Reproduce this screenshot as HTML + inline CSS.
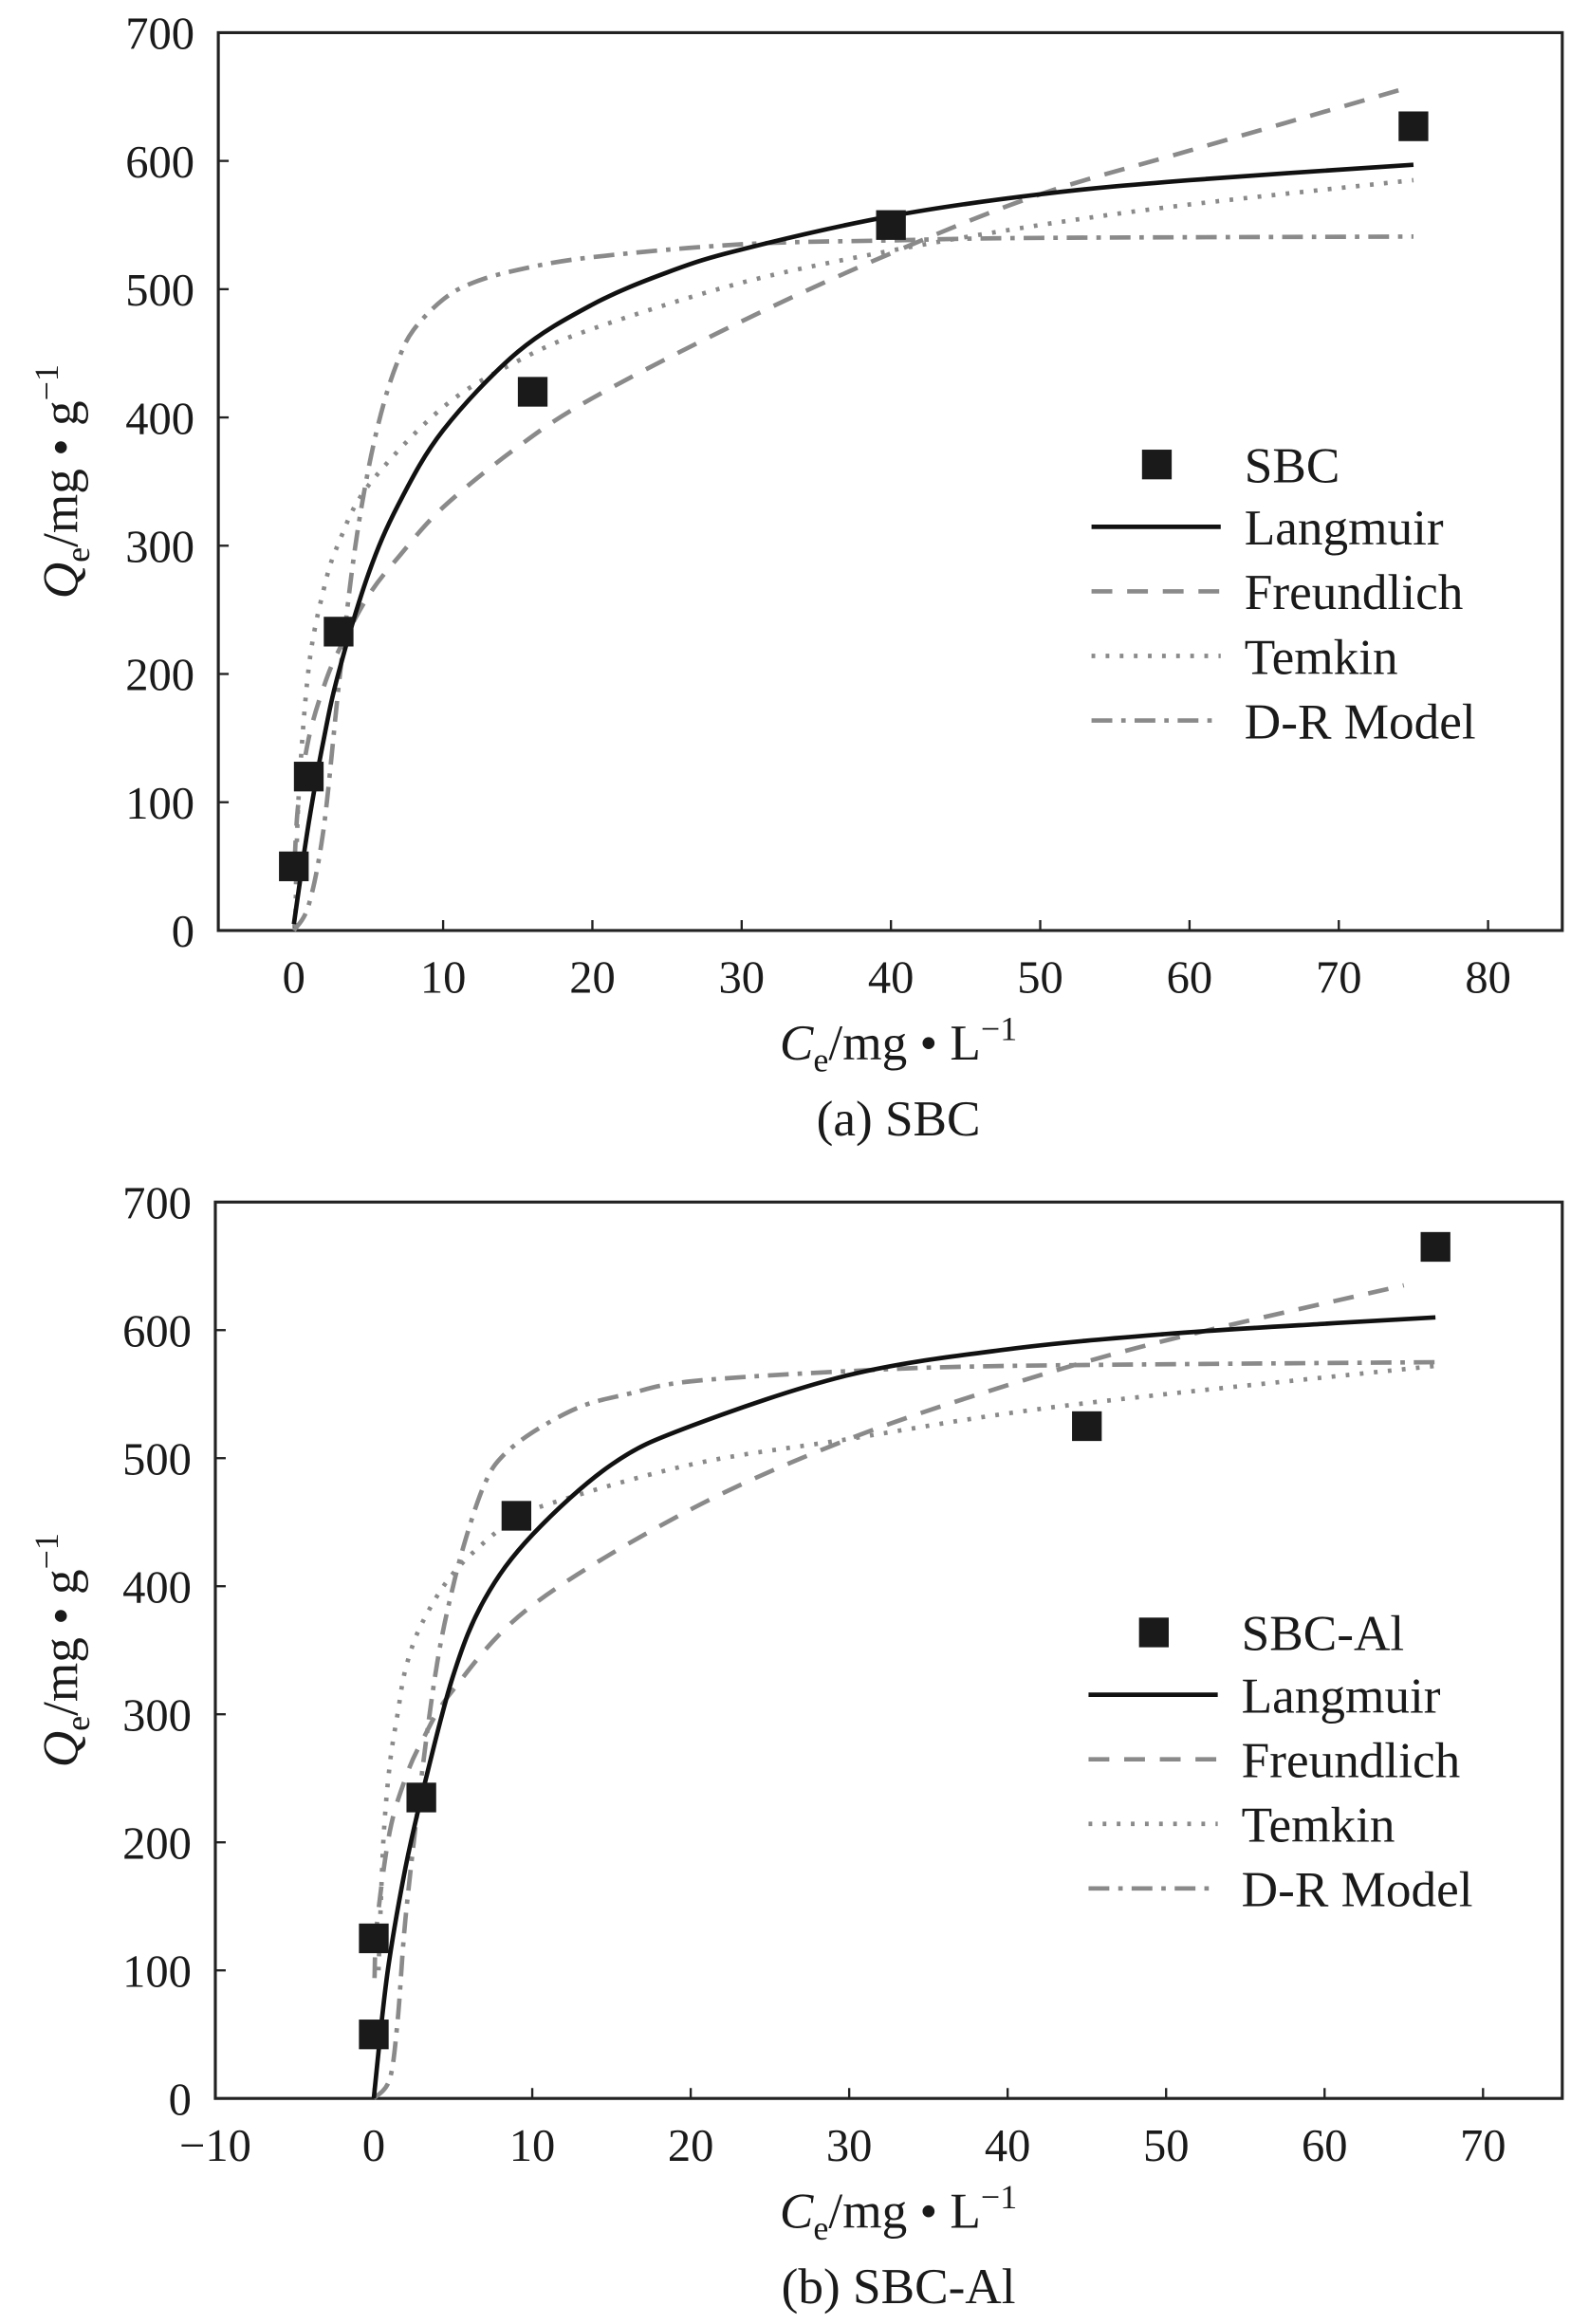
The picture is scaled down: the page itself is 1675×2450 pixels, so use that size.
<!DOCTYPE html>
<html><head><meta charset="utf-8">
<style>
html,body{margin:0;padding:0;background:#fff;}
svg{display:block;}
text{font-family:"Liberation Serif",serif;fill:#1a1a1a;}
</style></head>
<body>
<svg id="chart" width="1675" height="2450" viewBox="0 0 1070 1566" preserveAspectRatio="none" xmlns="http://www.w3.org/2000/svg"></svg>
<script>
// ---- Panel (a) SBC data ----
const aPtsC = [0, 1, 3, 16, 40, 75];
const aPtsQ = [50, 120, 233, 420, 550, 627];
const aLangC = [0,1,2,3,5,7,10,15,20,25,30,40,50,60,75];
const aLangQ = [5,84,149,201,278,332,390,451,488,513,531,557,574,585,597];
const aFreC = [0.05,0.3,1,2,3,5,7,10,15,20,30,40,50,60,74];
const aFreQ = [54,99,150,190,218,261,291,330,377,415,475,528,574,608,655];
const aTemC = [0.1,0.3,1,2,3,5,10,15,20,30,40,50,60,75];
const aTemQ = [3,100,205,266,302,347,408,444,469,505,530,550,566,585];
const aDRC = [0,1,2,3,4,5,6,7,8,10,12,15,20,30,40,50,75];
const aDRQ = [0,20,80,190,290,360,410,445,468,492,505,515,525,535,538,540,541];
const aXTicks = [0,10,20,30,40,50,60,70,80];
// ---- Panel (b) SBC-Al data ----
const bPtsC = [0, 0, 3, 9, 45, 67];
const bPtsQ = [50, 125, 235, 455, 525, 665];
const bLangC = [0,0.5,1,2,3,5,7,10,15,20,30,40,50,60,67];
const bLangQ = [0,60,110,180,235,330,390,440,495,525,565,585,597,605,610];
const bFreC = [0.05,0.2,1,2,3,5,10,20,30,40,50,65];
const bFreQ = [94,136,208,250,278,319,385,460,515,557,592,635];
const bTemC = [0.3,0.6,1,1.5,2,3,5,8,10,20,30,40,50,67];
const bTemQ = [100,200,260,300,335,370,410,445,460,495,515,535,550,572];
const bDRC = [0,1,1.5,2,3,4,5,6,7,8,10,13,16,20,30,40,67];
const bDRQ = [0,15,60,140,250,340,400,445,480,500,520,540,550,560,568,572,575];
const bXTicks = [-10,0,10,20,30,40,50,60,70];
const yTicks = [0,100,200,300,400,500,600,700];

const NS="http://www.w3.org/2000/svg";
const svg=document.getElementById('chart');
function mk(tag,attrs,parent){const e=document.createElementNS(NS,tag);for(const k in attrs)e.setAttribute(k,attrs[k]);(parent||svg).appendChild(e);return e;}
function smooth(P){
  let d='M'+P[0][0].toFixed(1)+','+P[0][1].toFixed(1);
  for(let i=0;i<P.length-1;i++){
    const p0=P[Math.max(i-1,0)],p1=P[i],p2=P[i+1],p3=P[Math.min(i+2,P.length-1)];
    const c1=[p1[0]+(p2[0]-p0[0])/6,p1[1]+(p2[1]-p0[1])/6];
    const c2=[p2[0]-(p3[0]-p1[0])/6,p2[1]-(p3[1]-p1[1])/6];
    d+='C'+c1[0].toFixed(1)+','+c1[1].toFixed(1)+' '+c2[0].toFixed(1)+','+c2[1].toFixed(1)+' '+p2[0].toFixed(1)+','+p2[1].toFixed(1);
  }
  return d;
}

function panel(p){
  const g=mk('g',{});
  
  
  const sx=c=>p.L+(c-p.xmin)/(p.xmax-p.xmin)*(p.R-p.L);
  const sy=q=>p.B-(q/700)*(p.B-p.T);
  const box=mk('rect',{x:p.L,y:p.T,width:p.R-p.L,height:p.B-p.T,fill:'none',stroke:'#222','stroke-width':2},g);
  
  
  p.xt.forEach(t=>{
    const x=sx(t);
    mk('line',{x1:x,y1:p.B,x2:x,y2:p.B-7,stroke:'#222','stroke-width':1.5},g);
    const tx=mk('text',{x:x,y:p.B+42,'font-size':31,'text-anchor':'middle'},g);
    tx.textContent=t<0?'\u2212'+(-t):String(t);
    
    
  });
  yTicks.forEach(t=>{
    const y=sy(t);
    mk('line',{x1:p.L,y1:y,x2:p.L+7,y2:y,stroke:'#222','stroke-width':1.5},g);
    const tx=mk('text',{x:p.L-16,y:y+11,'font-size':31,'text-anchor':'end'},g);
    tx.textContent=t;
    
    
  });
  const series=[
    {c:p.fre[0],q:p.fre[1],col:'#8a8a8a',da:'14,10',name:'freundlich-curve'},
    {c:p.tem[0],q:p.tem[1],col:'#8a8a8a',da:'2.5,7',name:'temkin-curve'},
    {c:p.dr[0],q:p.dr[1],col:'#8a8a8a',da:'14,6,3,6',name:'dr-model-curve'},
    {c:p.lang[0],q:p.lang[1],col:'#111',da:'none',name:'langmuir-curve'}
  ];
  series.forEach(s=>{
    const P=s.c.map((c,i)=>[sx(c),sy(s.q[i])]);
    const path=mk('path',{d:smooth(P),fill:'none',stroke:s.col,'stroke-width':3,'stroke-dasharray':s.da,'stroke-linejoin':'round'},g);
    
    
  });
  p.pts[0].forEach((c,i)=>{
    const r=mk('rect',{x:sx(c)-10,y:sy(p.pts[1][i])-10,width:20,height:20,fill:'#1a1a1a'},g);
    
    
  });
  const lg=mk('g',{},g);
  
  
  mk('rect',{x:p.lx+34,y:p.ly-10,width:20,height:20,fill:'#1a1a1a'},lg);
  const t0=mk('text',{x:p.lx+103,y:p.ly+12,'font-size':34},lg);t0.textContent=p.label;
  const items=[['Langmuir','#111','none'],['Freundlich','#8a8a8a','14,10'],['Temkin','#8a8a8a','2.5,7'],['D-R Model','#8a8a8a','14,6,3,6']];
  items.forEach((it,i)=>{
    const y=p.ly+42+i*43.5;
    mk('line',{x1:p.lx,y1:y,x2:p.lx+87,y2:y,stroke:it[1],'stroke-width':3,'stroke-dasharray':it[2]},lg);
    const t=mk('text',{x:p.lx+103,y:y+12,'font-size':34},lg);t.textContent=it[0];
    
    
  });
  const xt=mk('text',{x:605,y:p.B+87,'font-size':34,'text-anchor':'middle'},g);
  xt.innerHTML='<tspan font-style="italic">C</tspan><tspan font-size="23" dy="8">e</tspan><tspan dy="-8">/mg \u2022 L</tspan><tspan font-size="23" dy="-13">\u22121</tspan>';
  
  
  const yt=mk('text',{x:0,y:0,'font-size':34,'text-anchor':'middle',transform:'translate(52,'+((p.T+p.B)/2)+') rotate(-90)'},g);
  yt.innerHTML='<tspan font-style="italic">Q</tspan><tspan font-size="23" dy="8">e</tspan><tspan dy="-8">/mg \u2022 g</tspan><tspan font-size="23" dy="-13">\u22121</tspan>';
  
  
  const cap=mk('text',{x:605,y:p.B+138,'font-size':34,'text-anchor':'middle'},g);
  cap.textContent=p.caption;
  
  
}
panel({id:'sbc',L:147,R:1052,T:22,B:627,xmin:-5.06,xmax:84.97,xt:aXTicks,
  pts:[aPtsC,aPtsQ],lang:[aLangC,aLangQ],fre:[aFreC,aFreQ],tem:[aTemC,aTemQ],dr:[aDRC,aDRQ],
  lx:735,ly:313,label:'SBC',caption:'(a) SBC'});
panel({id:'sbc-al',L:145,R:1052,T:810,B:1414,xmin:-10,xmax:75,xt:bXTicks,
  pts:[bPtsC,bPtsQ],lang:[bLangC,bLangQ],fre:[bFreC,bFreQ],tem:[bTemC,bTemQ],dr:[bDRC,bDRQ],
  lx:733,ly:1100,label:'SBC-Al',caption:'(b) SBC-Al'});
</script>
</body></html>
